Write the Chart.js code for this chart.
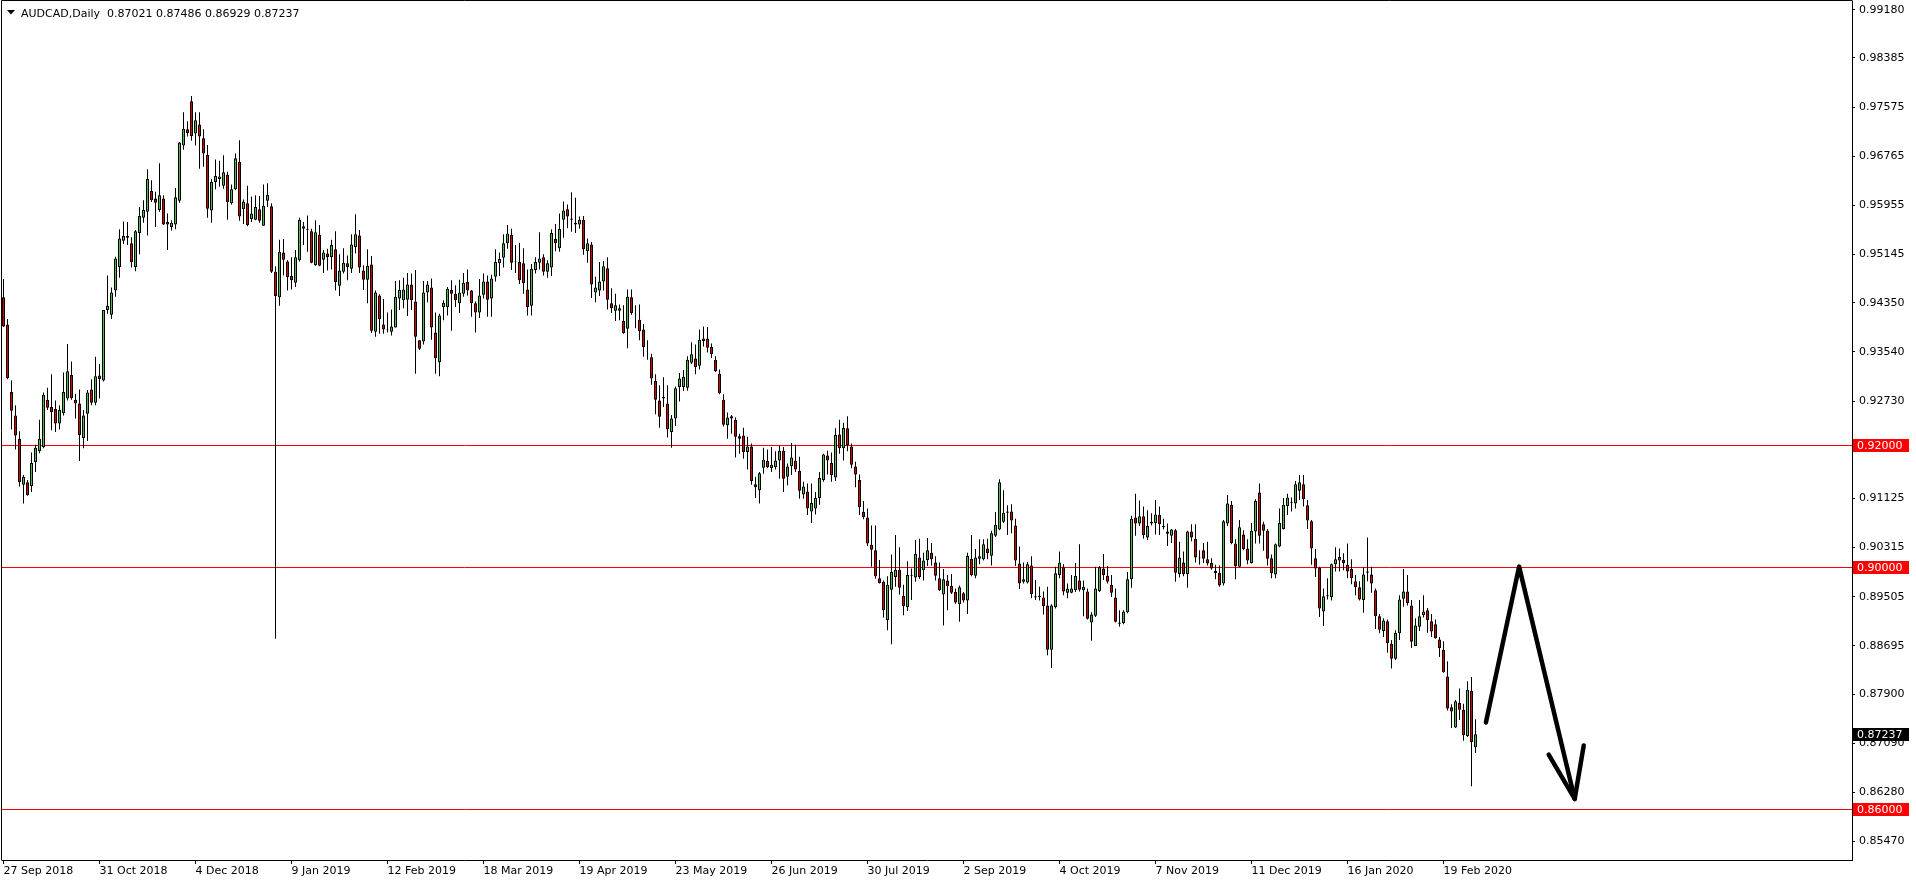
<!DOCTYPE html>
<html>
<head>
<meta charset="utf-8">
<script src="https://cdn.jsdelivr.net/npm/chart.js@4.4.1/dist/chart.umd.min.js"></script>
<style>
html,body{margin:0;padding:0;background:#fff;overflow:hidden;}
#c{display:block;}
</style>
</head>
<body>
<canvas id="c" width="1916" height="884"></canvas>
<script>
const symbol = 'AUDCAD';
const period = 'Daily';

// Daily OHLC, one entry per trading day starting 27 Sep 2018
const open = [
.9444,.9399,.9288,.9249,.9211,.9135,.9139,.9133,.9172,.9190,
.9197,.9275,.9263,.9260,.9236,.9253,.9277,.9316,.9275,.9269,
.9212,.9252,.9292,.9270,.9315,.9307,.9423,.9415,.9455,.9494,
.9537,.9545,.9533,.9494,.9550,.9575,.9585,.9619,.9607,.9588,
.9607,.9568,.9560,.9564,.9603,.9694,.9721,.9767,.9714,.9729,
.9706,.9679,.9587,.9634,.9639,.9628,.9646,.9599,.9622,.9667,
.9589,.9599,.9573,.9572,.9589,.9562,.9603,.9594,.9486,.9444,
.9518,.9503,.9479,.9468,.9505,.9561,.9556,.9553,.9497,.9547,
.9506,.9516,.9510,.9523,.9463,.9486,.9500,.9491,.9527,.9546,
.9488,.9473,.9498,.9387,.9447,.9399,.9391,.9387,.9394,.9442,
.9439,.9440,.9465,.9437,.9373,.9371,.9452,.9460,.9386,.9337,
.9428,.9428,.9456,.9450,.9434,.9450,.9469,.9455,.9434,.9419,
.9448,.9470,.9442,.9478,.9500,.9509,.9533,.9547,.9503,.9502,
.9500,.9457,.9430,.9489,.9501,.9510,.9486,.9493,.9540,.9525,
.9572,.9589,.9574,.9567,.9564,.9572,.9520,.9531,.9452,.9455,
.9470,.9492,.9434,.9422,.9422,.9405,.9392,.9444,.9417,.9407,
.9391,.9351,.9345,.9306,.9274,.9277,.9269,.9222,.9244,.9296,
.9296,.9295,.9336,.9343,.9331,.9372,.9376,.9362,.9341,.9318,
.9275,.9233,.9248,.9242,.9215,.9216,.9189,.9198,.9136,.9126,
.9163,.9174,.9162,.9164,.9175,.9191,.9148,.9166,.9175,.9158,
.9119,.9124,.9091,.9096,.9113,.9143,.9183,.9171,.9147,.9218,
.9195,.9228,.9198,.9165,.9143,.9090,.9081,.9036,.9027,.8981,
.8975,.8912,.8962,.8983,.8995,.8952,.8933,.8985,.8982,.9015,
.8994,.9011,.9023,.9007,.8981,.8954,.8977,.8968,.8958,.8938,
.8956,.8944,.9013,.8985,.9013,.9012,.9030,.9018,.9051,.9061,
.9074,.9091,.9091,.9068,.9005,.8975,.8974,.9002,.8951,.8950,
.8949,.8936,.8863,.8933,.8986,.8999,.8957,.8957,.8961,.8977,
.8961,.8959,.8908,.8919,.8960,.8997,.8985,.8970,.8949,.8908,
.8907,.8925,.8979,.9081,.9071,.9083,.9048,.9071,.9072,.9085,
.9067,.9058,.9051,.9060,.8988,.9007,.8988,.9058,.9046,.9015,
.9027,.9012,.9006,.8993,.8990,.8972,.9071,.9102,.9038,.9000,
.9053,.9030,.9006,.9058,.9122,.9070,.9059,.9014,.8987,.9033,
.9062,.9100,.9106,.9104,.9125,.9136,.9101,.9075,.9014,.8998,
.8926,.8953,.8950,.9004,.9010,.9011,.9003,.8996,.8976,.8966,
.8945,.8992,.8987,.8961,.8918,.8894,.8910,.8873,.8848,.8890,
.8947,.8959,.8936,.8869,.8901,.8920,.8928,.8910,.8905,.8880,
.8863,.8819,.8768,.8735,.8775,.8764,.8721,.8795,.87021
];
const high = [
.9474,.9408,.9307,.9266,.9223,.9151,.9143,.9188,.9201,.9242,
.9287,.9295,.9317,.9274,.9266,.9320,.9367,.9338,.9285,.9292,
.9258,.9291,.9309,.9346,.9334,.9423,.9480,.9460,.9511,.9556,
.9569,.9568,.9543,.9555,.9593,.9604,.9655,.9637,.9618,.9665,
.9612,.9582,.9571,.9624,.9700,.9749,.9734,.9776,.9749,.9749,
.9721,.9695,.9639,.9671,.9669,.9678,.9651,.9630,.9681,.9703,
.9605,.9628,.9610,.9612,.9611,.9630,.9632,.9599,.9495,.9539,
.9540,.9505,.9510,.9522,.9575,.9568,.9579,.9557,.9571,.9563,
.9522,.9524,.9539,.9553,.9515,.9525,.9513,.9548,.9581,.9555,
.9497,.9523,.9512,.9455,.9449,.9441,.9419,.9424,.9471,.9472,
.9476,.9484,.9483,.9489,.9373,.9471,.9471,.9475,.9419,.9417,
.9439,.9461,.9472,.9464,.9473,.9484,.9490,.9456,.9437,.9474,
.9483,.9480,.9481,.9523,.9518,.9548,.9563,.9557,.9530,.9534,
.9525,.9490,.9499,.9510,.9551,.9515,.9505,.9556,.9565,.9582,
.9602,.9597,.9617,.9608,.9577,.9578,.9541,.9535,.9478,.9502,
.9504,.9510,.9459,.9450,.9432,.9431,.9457,.9457,.9431,.9432,
.9400,.9373,.9351,.9317,.9299,.9312,.9299,.9250,.9297,.9319,
.9324,.9347,.9370,.9366,.9391,.9396,.9395,.9368,.9347,.9325,
.9284,.9254,.9250,.9246,.9219,.9229,.9214,.9203,.9148,.9156,
.9196,.9193,.9197,.9190,.9200,.9197,.9170,.9204,.9201,.9181,
.9140,.9137,.9137,.9123,.9156,.9186,.9191,.9188,.9228,.9242,
.9237,.9248,.9203,.9173,.9152,.9108,.9096,.9068,.9068,.9011,
.8977,.8984,.9020,.9052,.9032,.8970,.9009,.8997,.9044,.9046,
.9023,.9047,.9039,.9017,.9007,.8996,.8986,.8988,.8964,.8969,
.8958,.9023,.9052,.9029,.9045,.9045,.9046,.9059,.9090,.9144,
.9126,.9101,.9103,.9079,.9033,.9007,.9008,.9017,.8978,.8967,
.8959,.8967,.8938,.9000,.9025,.9004,.8972,.8986,.9006,.9037,
.8977,.8964,.8925,.9000,.9001,.9021,.9001,.8986,.8964,.8928,
.8928,.8991,.9084,.9120,.9109,.9099,.9093,.9088,.9110,.9099,
.9079,.9071,.9062,.9062,.9041,.9025,.9059,.9070,.9070,.9027,
.9039,.9041,.9014,.9003,.9002,.9077,.9118,.9108,.9045,.9077,
.9060,.9045,.9072,.9111,.9137,.9074,.9062,.9020,.9038,.9096,
.9113,.9120,.9114,.9141,.9151,.9151,.9110,.9077,.9029,.9000,
.8964,.8981,.9005,.9032,.9030,.9022,.9038,.9012,.8986,.8976,
.8999,.9048,.9000,.8964,.8922,.8915,.8913,.8879,.8895,.8953,
.8996,.8986,.8945,.8915,.8945,.8953,.8932,.8922,.8913,.8884,
.8877,.8844,.8773,.8780,.8799,.8774,.8811,.8818,.87486
];
const low = [
.9395,.9309,.9226,.9193,.9132,.9104,.9117,.9123,.9156,.9187,
.9195,.9258,.9225,.9222,.9226,.9249,.9274,.9275,.9244,.9174,
.9195,.9207,.9266,.9266,.9277,.9305,.9417,.9408,.9445,.9476,
.9532,.9530,.9493,.9487,.9515,.9567,.9546,.9601,.9560,.9585,
.9563,.9522,.9554,.9556,.9600,.9687,.9709,.9702,.9694,.9656,
.9659,.9575,.9567,.9622,.9626,.9623,.9572,.9597,.9621,.9570,
.9565,.9561,.9568,.9571,.9567,.9562,.9593,.9484,.8881,.9430,
.9480,.9455,.9457,.9461,.9503,.9530,.9519,.9500,.9496,.9495,
.9484,.9488,.9490,.9455,.9446,.9483,.9472,.9484,.9516,.9484,
.9456,.9434,.9385,.9379,.9384,.9384,.9386,.9381,.9394,.9423,
.9426,.9413,.9423,.9318,.9357,.9366,.9436,.9374,.9318,.9314,
.9406,.9414,.9389,.9428,.9418,.9445,.9447,.9412,.9386,.9410,
.9442,.9412,.9412,.9470,.9479,.9493,.9524,.9489,.9484,.9466,
.9450,.9414,.9414,.9483,.9490,.9480,.9476,.9479,.9520,.9519,
.9542,.9558,.9552,.9550,.9557,.9514,.9501,.9443,.9436,.9446,
.9455,.9424,.9418,.9405,.9406,.9384,.9360,.9415,.9393,.9373,
.9346,.9341,.9300,.9251,.9229,.9263,.9213,.9196,.9232,.9272,
.9290,.9290,.9334,.9317,.9325,.9363,.9353,.9344,.9321,.9284,
.9231,.9211,.9219,.9180,.9186,.9178,.9160,.9135,.9113,.9104,
.9153,.9162,.9156,.9160,.9145,.9123,.9134,.9151,.9156,.9112,
.9112,.9085,.9072,.9086,.9102,.9140,.9152,.9140,.9141,.9186,
.9175,.9190,.9162,.9131,.9085,.9078,.9034,.9000,.8980,.8972,
.8916,.8895,.8872,.8967,.8954,.8920,.8927,.8945,.8975,.8980,
.8977,.9001,.9002,.8977,.8960,.8903,.8928,.8955,.8939,.8909,
.8941,.8922,.8984,.8981,.9004,.9010,.9012,.9002,.9049,.9060,
.9072,.9052,.9055,.9001,.8963,.8972,.8972,.8948,.8945,.8944,
.8921,.8854,.8833,.8931,.8981,.8953,.8948,.8956,.8958,.8959,
.8918,.8913,.8878,.8917,.8958,.8978,.8972,.8950,.8908,.8901,
.8905,.8923,.8965,.9051,.9067,.9046,.9044,.9068,.9053,.9052,
.9061,.9034,.9039,.8975,.8982,.8984,.8965,.9042,.9007,.9003,
.9006,.9002,.8995,.8979,.8967,.8969,.9067,.9037,.8979,.8999,
.9027,.9004,.9005,.9038,.9038,.9026,.9002,.8981,.8981,.9032,
.9061,.9085,.9091,.9096,.9110,.9099,.9062,.9003,.8983,.8917,
.8902,.8946,.8944,.8992,.8992,.8994,.8981,.8971,.8953,.8944,
.8924,.8976,.8957,.8897,.8890,.8884,.8858,.8832,.8846,.8879,
.8934,.8936,.8866,.8869,.8894,.8916,.8891,.8884,.8881,.8851,
.8825,.8763,.8734,.8734,.8747,.8713,.8719,.8638,.86929
];
const close = [
.9396,.9311,.9257,.9216,.9139,.9148,.9118,.9171,.9196,.9211,
.9283,.9262,.9255,.9236,.9258,.9288,.9322,.9278,.9269,.9217,
.9249,.9287,.9270,.9314,.9309,.9423,.9430,.9452,.9508,.9541,
.9545,.9542,.9502,.9553,.9578,.9588,.9639,.9604,.9600,.9612,
.9564,.9564,.9567,.9609,.9699,.9722,.9715,.9710,.9736,.9709,
.9681,.9590,.9634,.9644,.9643,.9650,.9601,.9622,.9673,.9577,
.9602,.9563,.9582,.9593,.9570,.9595,.9613,.9486,.9446,.9519,
.9506,.9477,.9472,.9510,.9572,.9557,.9555,.9501,.9551,.9496,
.9518,.9510,.9530,.9469,.9488,.9501,.9494,.9531,.9548,.9493,
.9473,.9496,.9389,.9452,.9408,.9391,.9390,.9396,.9445,.9456,
.9457,.9465,.9439,.9379,.9359,.9452,.9465,.9394,.9344,.9414,
.9435,.9458,.9450,.9439,.9452,.9468,.9455,.9434,.9419,.9447,
.9470,.9440,.9475,.9502,.9507,.9533,.9549,.9501,.9502,.9472,
.9467,.9428,.9491,.9502,.9508,.9486,.9500,.9550,.9533,.9557,
.9587,.9577,.9572,.9564,.9572,.9523,.9533,.9465,.9460,.9470,
.9495,.9440,.9426,.9431,.9426,.9385,.9445,.9418,.9416,.9388,
.9362,.9350,.9310,.9275,.9247,.9280,.9226,.9244,.9294,.9310,
.9313,.9341,.9350,.9329,.9374,.9376,.9361,.9350,.9322,.9286,
.9234,.9246,.9244,.9214,.9211,.9189,.9198,.9141,.9131,.9154,
.9176,.9164,.9168,.9175,.9191,.9145,.9165,.9180,.9160,.9125,
.9132,.9096,.9105,.9113,.9146,.9185,.9175,.9151,.9217,.9195,
.9229,.9200,.9168,.9152,.9098,.9082,.9038,.9028,.8984,.8973,
.8928,.8970,.8991,.8995,.8965,.8935,.8986,.8986,.9021,.8983,
.9010,.9027,.9012,.8985,.8961,.8979,.8968,.8957,.8941,.8966,
.8944,.9018,.8986,.9015,.9017,.9037,.9022,.9055,.9069,.9139,
.9089,.9089,.9076,.9010,.8972,.8979,.9004,.8955,.8949,.8952,
.8935,.8863,.8936,.8989,.9007,.8959,.8964,.8964,.8985,.8962,
.8967,.8914,.8921,.8964,.8999,.8986,.8975,.8957,.8909,.8906,
.8926,.8979,.9079,.9071,.9083,.9052,.9067,.9074,.9086,.9070,
.9065,.9054,.9061,.8990,.9015,.8988,.9058,.9048,.9015,.9014,
.9013,.9005,.8997,.8989,.8969,.9075,.9104,.9039,.9001,.9065,
.9029,.9010,.9059,.9108,.9051,.9059,.9013,.8989,.9037,.9072,
.9102,.9114,.9105,.9136,.9139,.9111,.9076,.9030,.8997,.8931,
.8951,.8951,.9004,.9012,.9016,.9006,.8992,.8981,.8966,.8946,
.8987,.8990,.8972,.8918,.8896,.8911,.8874,.8848,.8891,.8946,
.8959,.8940,.8876,.8903,.8918,.8926,.8912,.8893,.8882,.8866,
.8826,.8766,.8761,.8778,.8764,.8722,.8797,.8711,.87237
];

// x-axis date labels, one every 24 bars
const dateLabels = ['27 Sep 2018','31 Oct 2018','4 Dec 2018','9 Jan 2019','12 Feb 2019','18 Mar 2019',
  '19 Apr 2019','23 May 2019','26 Jun 2019','30 Jul 2019','2 Sep 2019','4 Oct 2019',
  '7 Nov 2019','11 Dec 2019','16 Jan 2020','19 Feb 2020'];
const dateLabelBars = [0,24,48,72,96,120,144,168,192,216,240,264,288,312,336,360];

// price-axis tick labels
const priceTicks = [0.99180,0.98385,0.97575,0.96765,0.95955,0.95145,0.94350,0.93540,0.92730,
  0.91125,0.90315,0.89505,0.88695,0.87900,0.87090,0.86280,0.85470];

// horizontal levels and current price
const levels = [0.92, 0.90, 0.86];
const lastPrice = close[close.length - 1];

// hand-drawn projection arrow (bar index, price)
const arrowX = [370.6, 378.9, 392.8];
const arrowY = [0.8743, 0.9000, 0.8617];
const headX = [386.3, 392.8, 395.05];
const headY = [0.8690, 0.8617, 0.8705];

const BULL = '#4dbb4d', BEAR = '#dd0000';
const FONT = 'DejaVu Sans';

const wicks = open.map((o, i) => ({x: i, y: [low[i], high[i]]}));
const bodies = open.map((o, i) => ({x: i, y: [o, close[i]]}));
const bodyColors = open.map((o, i) => close[i] >= o ? BULL : BEAR);

const overlay = {
  id: 'overlay',
  beforeDatasetsDraw(chart) {
    const {ctx, chartArea: a, scales: {y}} = chart;
    ctx.save();
    ctx.strokeStyle = '#ff0000';
    ctx.lineWidth = 1;
    levels.forEach(v => {
      const py = Math.round(y.getPixelForValue(v)) + 0.5;
      ctx.beginPath(); ctx.moveTo(a.left, py); ctx.lineTo(a.right, py); ctx.stroke();
    });
    ctx.restore();
  },
  afterDraw(chart) {
    const {ctx, chartArea: a, scales: {y}} = chart;
    ctx.save();
    // frame
    ctx.strokeStyle = '#000'; ctx.lineWidth = 1;
    ctx.beginPath();
    ctx.moveTo(a.left - 0.5, a.bottom + 0.5);
    ctx.lineTo(a.left - 0.5, 0.5);
    ctx.lineTo(a.right + 0.5, 0.5);
    ctx.stroke();
    // price boxes
    ctx.font = '11px "' + FONT + '"';
    ctx.textBaseline = 'middle';
    ctx.textAlign = 'left';
    const box = (v, bg) => {
      const py = Math.round(y.getPixelForValue(v));
      ctx.fillStyle = bg;
      ctx.fillRect(a.right + 1, py - 6, 56, 13);
      ctx.fillStyle = '#fff';
      ctx.fillText(v.toFixed(5), a.right + 5, py + 1);
    };
    levels.forEach(v => box(v, '#ff0000'));
    box(lastPrice, '#000');
    // header
    ctx.fillStyle = '#000';
    ctx.beginPath();
    ctx.moveTo(7, 10); ctx.lineTo(15, 10); ctx.lineTo(11, 14.5); ctx.closePath(); ctx.fill();
    ctx.textBaseline = 'alphabetic';
    const n = open.length - 1;
    const hdr = symbol + ',' + period + '  ' + [open[n], high[n], low[n], close[n]].map(v => v.toFixed(5)).join(' ');
    ctx.fillText(hdr, 21, 17);
    ctx.restore();
  }
};

new Chart(document.getElementById('c'), {
  type: 'bar',
  data: {
    datasets: [
      {type: 'line', data: arrowX.map((x, i) => ({x, y: arrowY[i]})), borderColor: '#000', borderWidth: 4.5,
       pointRadius: 0, borderCapStyle: 'round', borderJoinStyle: 'round', tension: 0, order: 0},
      {type: 'line', data: headX.map((x, i) => ({x, y: headY[i]})), borderColor: '#000', borderWidth: 4.5,
       pointRadius: 0, borderCapStyle: 'round', borderJoinStyle: 'round', tension: 0, order: 0},
      {data: bodies, backgroundColor: bodyColors, borderColor: '#000', borderWidth: 1, borderSkipped: false,
       barThickness: 3, grouped: false, inflateAmount: 0, order: 1},
      {data: wicks, backgroundColor: '#000', borderWidth: 0, barThickness: 1, grouped: false,
       inflateAmount: 0, order: 2}
    ]
  },
  options: {
    responsive: false,
    animation: false,
    devicePixelRatio: 1,
    layout: {padding: {left: 2, top: 1, right: 0, bottom: 0}},
    plugins: {legend: {display: false}, tooltip: {enabled: false}},
    scales: {
      x: {
        type: 'linear', min: -0.375, max: 462.125, offset: false,
        grid: {drawOnChartArea: false, drawTicks: true, tickLength: 4, tickColor: '#000', offset: false},
        border: {display: true, color: '#000', width: 1},
        ticks: {align: 'start', autoSkip: false, maxRotation: 0, minRotation: 0, padding: 1, color: '#000',
          font: {family: FONT, size: 11},
          callback: (v, idx) => dateLabels[idx]},
        afterBuildTicks: s => { s.ticks = dateLabelBars.map(v => ({value: v})); },
        afterFit: s => { s.height = 24; s.paddingLeft = 0; s.paddingRight = 0; }
      },
      y: {
        type: 'linear', position: 'right', min: 0.85164, max: 0.99324,
        grid: {drawOnChartArea: false, drawTicks: true, tickLength: 3, tickColor: '#000'},
        border: {display: true, color: '#000', width: 1},
        ticks: {autoSkip: false, padding: 4, color: '#000', font: {family: FONT, size: 11},
          callback: v => Number(v).toFixed(5)},
        afterBuildTicks: s => { s.ticks = priceTicks.map(v => ({value: v})); },
        afterFit: s => { s.width = 64; s.paddingTop = 0; s.paddingBottom = 0; }
      }
    }
  },
  plugins: [overlay]
});
</script>
</body>
</html>
